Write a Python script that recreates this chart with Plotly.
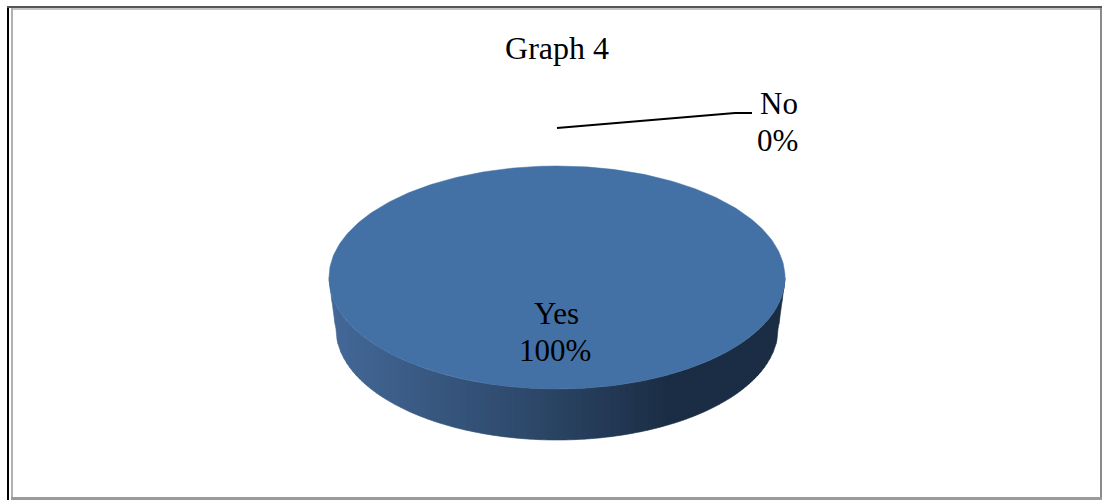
import numpy as np
import plotly.graph_objects as go

title = "Graph 4"
labels = ["Yes", "No"]
values = [100, 0]

TOP = "#4371a6"
CX, CY, RX, RY = 557, 277.5, 228, 111.5
BCY, BRX, BRY = 329, 221, 111
STOPS = [(0.0, (0x44, 0x69, 0x99)), (0.45, (0x2d, 0x48, 0x69)), (0.74, (0x1c, 0x2e, 0x46)), (1.0, (0x1b, 0x2d, 0x44))]


def side_colour(t):
    pos = [s[0] for s in STOPS]
    return "rgb(%d,%d,%d)" % tuple(np.interp(t, pos, [s[1][i] for s in STOPS]) for i in range(3))


def wall_y(x):
    u = np.clip((x - CX) / RX, -1, 1)
    top = CY + RY * np.sqrt(1 - u * u)
    v = np.clip((x - CX) / BRX, -1, 1)
    bottom = BCY + BRY * np.sqrt(1 - v * v)
    edge = (RX - abs(x - CX)) / (RX - BRX)
    if edge < 1:
        bottom = min(bottom, CY + (BCY - CY) * edge + 2)
    return top, bottom


fig = go.Figure()

# side wall of the pie, split in thin strips for the gradient
edges = np.linspace(CX - RX, CX + RX, 153)
for a, b in zip(edges[:-1], edges[1:]):
    xs, tops, bots = [], [], []
    for x in np.linspace(a, b, 4):
        t, d = wall_y(x)
        xs.append(x); tops.append(t); bots.append(d)
    col = side_colour(((a + b) / 2 - edges[0]) / (edges[-1] - edges[0]))
    fig.add_trace(go.Scatter(
        x=xs + xs[::-1], y=tops + bots[::-1], mode="lines", fill="toself",
        fillcolor=col, line=dict(color=col, width=0.6), hoverinfo="skip", showlegend=False,
    ))

# slices: angular extent derived from the values
total = sum(values)
start = 0.0
for lab, val in zip(labels, values):
    sweep = 2 * np.pi * val / total
    if val > 0:
        th = np.linspace(start, start + sweep, 361)
        fig.add_trace(go.Scatter(
            x=CX + RX * np.sin(th), y=CY - RY * np.cos(th), mode="lines", fill="toself",
            fillcolor=TOP, line=dict(color=TOP, width=0.5), name=lab,
            hovertemplate=f"{lab}: {val}%<extra></extra>", showlegend=False,
        ))
    start += sweep

# leader line of the empty slice
fig.add_trace(go.Scatter(
    x=[557, 735, 752], y=[128, 113, 113], mode="lines",
    line=dict(color="black", width=2), hoverinfo="skip", showlegend=False,
))


def label(x, y, txt):
    fig.add_annotation(x=x, y=y, text=txt, showarrow=False, xanchor="center", yanchor="middle",
                       font=dict(family="Liberation Serif", size=31, color="black"))


label(556, 313, labels[0])
label(555, 350, f"{values[0]}%")
label(779, 103, labels[1])
label(777, 140, f"{values[1]}%")

frame = [
    (7, 6, 9, 500, "#000000"),
    (7, 6, 1102, 8, "#555555"),
    (11, 8, 13, 500, "#b0b0b0"),
    (13, 8, 1102, 10, "#c4c4c4"),
    (1100, 8, 1102, 500, "#8a8a8a"),
    (11, 497, 1102, 500, "#9a9a9a"),
]
shapes = [dict(type="rect", xref="x", yref="y", x0=a, y0=b, x1=c, y1=d,
               fillcolor=col, line=dict(width=0), layer="below") for a, b, c, d, col in frame]

fig.update_layout(
    width=1102, height=500, margin=dict(l=0, r=0, t=0, b=0),
    paper_bgcolor="white", plot_bgcolor="white", showlegend=False, shapes=shapes,
    title=dict(text=title, x=557 / 1102, xanchor="center", y=1 - 48 / 500, yanchor="middle",
               font=dict(family="Liberation Serif", size=32, color="black")),
    xaxis=dict(range=[0, 1102], visible=False, fixedrange=True),
    yaxis=dict(range=[500, 0], visible=False, fixedrange=True),
)

fig.write_html(
    "out.html",
    config=dict(displayModeBar=False),
    post_script="document.body.style.margin='0';document.body.style.overflow='hidden';",
)
